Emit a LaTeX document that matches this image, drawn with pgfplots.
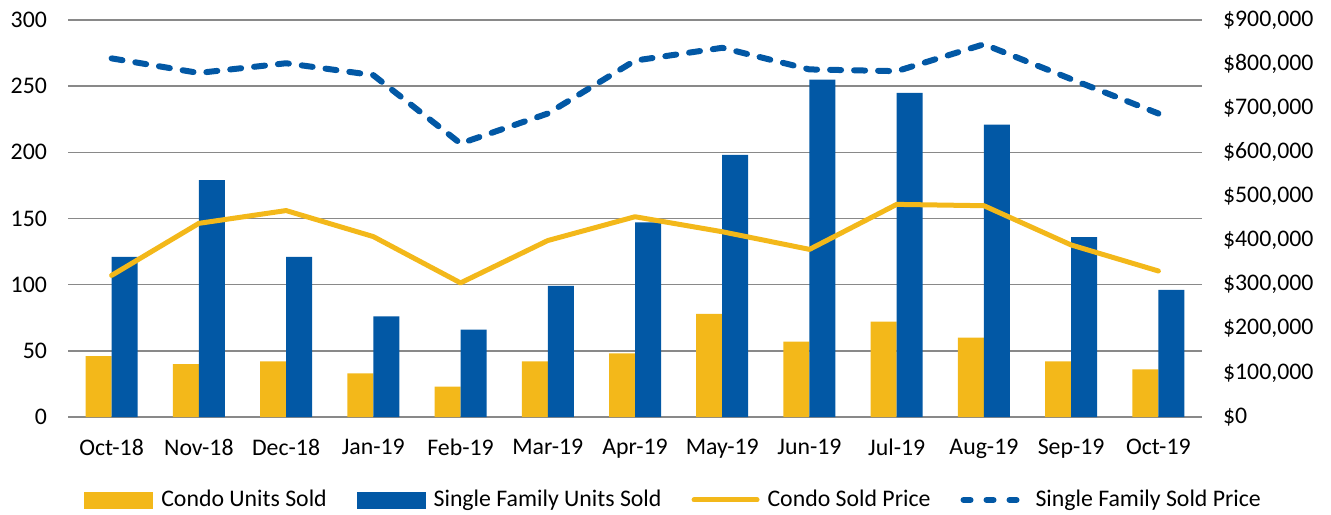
\documentclass[border=0pt]{standalone}
\usepackage{fontspec}
\setmainfont{Carlito}
\usepackage{pgfplots}
\pgfplotsset{compat=1.18}
\definecolor{cyel}{HTML}{F3B81A}
\definecolor{cblue}{HTML}{0258A5}
\definecolor{cgrid}{HTML}{898989}
\newcommand{\lblfont}{\fontsize{11.9}{14}\selectfont}
\begin{document}
\begin{tikzpicture}
\useasboundingbox (-34pt,-48.5pt) rectangle (631.5pt,208.5pt);
\pgfplotsset{
  common/.style={
    scale only axis, width=567pt, height=198.5pt,
    xmin=-0.5, xmax=12.5,
    axis line style={draw=none},
    major tick length=0pt,
    tick label style={font=\lblfont},
    /pgf/number format/assume math mode=true,
  }
}
\begin{axis}[common,
  at={(0,0)}, anchor=south west,
  ymin=0, ymax=300, ytick={0,50,...,300},
  ymajorgrids, grid style={cgrid, line width=0.8pt},
  xtick={0,...,12},
  xticklabels={Oct-18,Nov-18,Dec-18,Jan-19,Feb-19,Mar-19,Apr-19,May-19,Jun-19,Jul-19,Aug-19,Sep-19,Oct-19},
  xticklabel style={yshift=-7.5pt},
  yticklabel style={xshift=-7pt},
  ybar=0pt, bar width=13pt,
]
\addplot[fill=cyel, draw=none] coordinates {(0,46) (1,40) (2,42) (3,33) (4,23) (5,42) (6,48) (7,78) (8,57) (9,72) (10,60) (11,42) (12,36)};
\addplot[fill=cblue, draw=none] coordinates {(0,121) (1,179) (2,121) (3,76) (4,66) (5,99) (6,147) (7,198) (8,255) (9,245) (10,221) (11,136) (12,96)};
\end{axis}
\begin{axis}[common,
  at={(0,0)}, anchor=south west,
  axis y line*=right, axis x line=none,
  ymin=0, ymax=900000, ytick={0,100000,...,900000},
  scaled y ticks=false,
  yticklabels={{\$0},{\$100,000},{\$200,000},{\$300,000},{\$400,000},{\$500,000},{\$600,000},{\$700,000},{\$800,000},{\$900,000}},
  yticklabel style={xshift=7pt},
  legend columns=4,
  legend style={draw=none, fill=none, font=\lblfont, at={(0.535,-0.209)}, anchor=center,
    /tikz/every odd column/.append style={column sep=2pt},
    /tikz/every even column/.append style={column sep=13pt}},
  legend cell align=left,
]
\addlegendimage{legend image code/.code={\fill[cyel] (0pt,-4pt) rectangle (34pt,4pt);}}
\addlegendentry{Condo Units Sold}
\addlegendimage{legend image code/.code={\fill[cblue] (0pt,-4pt) rectangle (34pt,4pt);}}
\addlegendentry{Single Family Units Sold}
\addplot[cyel, line width=2.5pt, line join=round, line cap=round,
  legend image code/.code={\draw[cyel, line width=2.5pt, line cap=round] (1.25pt,0pt) -- (32.75pt,0pt);}]
  coordinates {(0,321000) (1,439000) (2,468000) (3,409000) (4,304000) (5,400000) (6,454000) (7,420000) (8,380000) (9,482000) (10,479000) (11,390000) (12,331000)};
\addlegendentry{Condo Sold Price}
\addplot[cblue, line width=3pt, line cap=round, line join=round, dash pattern=on 5.5pt off 6.5pt,
  legend image code/.code={\draw[cblue, line width=3pt, line cap=round, dash pattern=on 3.5pt off 8pt] (1.5pt,0pt) -- (32pt,0pt);}]
  coordinates {(0,813000) (1,780000) (2,802000) (3,775000) (4,620000) (5,688000) (6,808000) (7,837000) (8,788000) (9,784000) (10,845000) (11,766000) (12,688000)};
\addlegendentry{Single Family Sold Price}
\end{axis}
\end{tikzpicture}
\end{document}
